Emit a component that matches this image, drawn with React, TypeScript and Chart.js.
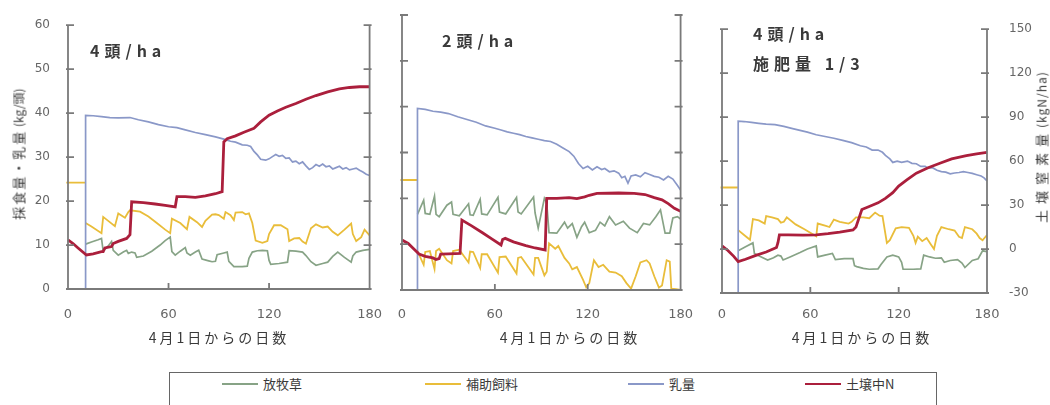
import React, { useEffect, useRef } from "react";
import { Chart, registerables } from "chart.js";

Chart.register(...registerables);

type Pt = [number, number | null];

// ---------- axes / labels ----------
const xTicks = [0, 60, 120, 180];
const leftTicks = [0, 10, 20, 30, 40, 50, 60];
const rightTicks = [-30, 0, 30, 60, 90, 120, 150];
const seriesNames = ["放牧草", "補助飼料", "乳量", "土壌中N"];
const panelTitles = [["4頭/ha"], ["2頭/ha"], ["4頭/ha", "施肥量 1/3"]];
const xTitle = "4月1日からの日数";
const leftTitleA = "採食量・乳量";
const leftTitleB = " (kg/頭)";
const rightTitleA = "土壌窒素量";
const rightTitleB = "(kgN/ha)";

// ---------- panel 1 : 4頭/ha ----------
const grass4: Pt[] = [
  [10.5, 10.2], [14, 10.7], [18, 11.2], [20, 11.5], [21, 8.6], [24, 9.8], [26, 10.8], [27, 8.8], [30, 7.7],
  [33, 8.4], [35, 8.8], [36, 8.1], [38, 8.4], [40, 8.2], [41, 7.2], [45, 7.5], [50, 8.6], [55, 10], [58, 11],
  [61, 11.8], [62, 8.5], [64, 7.7], [67, 8.6], [70, 9.4], [71, 8.2], [73, 7.7], [76, 8.4], [78, 8.8], [80, 6.8],
  [84, 6.4], [86, 6.2], [88, 6.3], [89, 7.8], [93, 8.2], [95, 8.4], [96, 6.3], [99, 5.1], [104, 5.1], [107, 5.2],
  [108, 7], [110, 8.4], [113, 8.7], [116, 8.8], [119, 8.7], [120, 6.5], [121, 5.6], [126, 5.8], [131, 6.1],
  [132, 8.7], [136, 8.6], [140, 8.4], [142, 7.6], [145, 6.2], [148, 5.4], [152, 5.8], [155, 6.1], [158, 7.4],
  [161, 8.4], [165, 7.2], [169, 6.1], [170, 7.5], [172, 8.4], [176, 8.8], [180, 9],
];
const feed4: Pt[] = [
  [-1, 24.2], [10.5, 24.2], [10.5, null], [10.5, 15], [14, 14.2], [20, 12.7], [21, 16.4], [24, 15.5], [28, 14.3],
  [30, 17.2], [34, 16.2], [36, 17.5], [37, 17.9], [43, 17.6], [48, 16.5], [53, 15], [58, 13.5], [61, 12.7],
  [62, 16], [67, 15], [71, 13.6], [72.5, 16.4], [77, 15.2], [80, 14.1], [82, 15.5], [86, 16.9], [88, 17],
  [90, 16.8], [93, 16], [94, 17.5], [97, 16.8], [99, 15.7], [100, 17.4], [104, 17.5], [106, 17], [108, 17.2],
  [110, 15], [112, 11], [116, 10.5], [119, 10.9], [120, 12.5], [123, 14.5], [127, 14.5], [131, 13.6],
  [132, 10.9], [135, 11.5], [138, 11.6], [140, 10.8], [142, 10.3], [143, 11.5], [145, 13.8], [148, 14.7],
  [152, 14], [155, 14.2], [158, 13], [161, 12.2], [165, 13.5], [169, 14.9], [170, 12.5], [172, 10.9],
  [175, 11.8], [177, 13.5], [180, 12.2],
];
const milk4: Pt[] = [
  [0, 0], [10.5, 0], [10.5, 39.5], [15, 39.4], [20, 39.2], [25, 39], [30, 38.9], [37, 39], [42, 38.5], [48, 38],
  [54, 37.4], [60, 36.9], [65, 36.7], [70, 36.2], [76, 35.6], [82, 35.1], [88, 34.6], [93, 34.1], [97, 33.6],
  [100, 33.4], [104, 32.8], [107, 32.7], [109, 32.4], [111, 31.3], [113, 30.5], [115, 29.5], [118, 29.3],
  [120, 29.6], [122, 30.1], [124, 30.6], [126, 30.2], [128, 30.4], [130, 29.7], [132, 29.8], [134, 28.9],
  [136, 29.1], [138, 28.5], [140, 28.9], [142, 28], [144, 27.2], [146, 27.6], [148, 28.3], [150, 27.9],
  [152, 28.4], [154, 27.8], [156, 28], [158, 27.3], [160, 27.6], [162, 27.9], [164, 27.3], [166, 27.6],
  [168, 27.1], [170, 27.3], [172, 27.5], [174, 27], [176, 26.6], [178, 26.1], [180, 25.8],
];
const soilN4: Pt[] = [
  [0, 3.5], [3, 1], [6, -2], [11, -6.8], [15, -6], [20, -4.5], [21, -4.5], [22, -2], [26, -1], [27, 1],
  [30, 2.5], [35, 4.5], [37, 7], [38, 29.5], [45, 29], [52, 28], [58, 27], [64, 26], [65, 33], [70, 33],
  [76, 32.5], [82, 33.5], [88, 35], [92, 36.4], [93, 70.4], [95, 72.5], [100, 74.5], [105, 77], [111, 79.6],
  [115, 84], [120, 88.6], [125, 91.5], [130, 94], [136, 96.6], [142, 99.5], [148, 102], [155, 104.5],
  [162, 106.5], [168, 107.5], [174, 108], [180, 108],
];

// ---------- panel 2 : 2頭/ha ----------
const grass2: Pt[] = [
  [10, 16.5], [14, 19.6], [15, 16.7], [18, 16.5], [21, 20.5], [22, 16.5], [24, 16], [29, 18.5], [32, 19.2],
  [33, 16.5], [37, 16.2], [43, 18.8], [44, 16.4], [46, 16.3], [50.5, 19.8], [51.5, 16.6], [55, 16.4],
  [62, 20.2], [63, 17], [67, 16.6], [74, 20.2], [75, 17], [77, 16.6], [85, 20.3], [86, 16.8], [88, 13.5],
  [92, 20], [93.5, 19], [95, 12.5], [100, 12.4], [105, 14.8], [107, 13.5], [110, 14.5], [113, 11.5],
  [116, 13.8], [118, 14.8], [121, 12.5], [125, 13], [128, 14.8], [131, 14], [134, 16], [138, 14.2],
  [143, 15], [147, 13.5], [152, 12.5], [156, 14.5], [160, 14.2], [164, 16], [167, 17.5], [170, 12.4],
  [173, 12.4], [175, 15.7], [178, 16], [180, 15.5],
];
const feed2: Pt[] = [
  [-1, 24], [10, 24], [10, null], [10, 8.5], [14, 5.5], [15, 8.3], [18, 8.5], [21, 4.6], [22, 8.5], [24, 9],
  [29, 6.5], [32, 5.8], [33, 8.5], [37, 8.8], [43, 6], [44, 8.4], [46, 8.3], [50.5, 4.8], [51.5, 7.8],
  [55, 7.8], [62, 3.8], [63, 7.2], [67, 7.3], [74, 3.6], [75, 7], [77, 7.2], [85, 3.4], [86, 7], [88, 7],
  [92, 3.2], [93.5, 4], [95, 10.2], [99, 9], [101, 9.6], [105, 7], [108, 5.8], [110, 4.5], [113, 5],
  [117, 2.2], [119, 0.6], [121, 1.5], [124, 6.5], [127, 5], [130, 5.5], [134, 4], [138, 3.8], [142, 3],
  [145, 1.5], [148, 0.3], [151, 3], [154, 6], [158, 6.5], [160, 5.8], [163, 3], [166, 0.5], [168, 1],
  [171, 6.5], [173, 6.2], [174, 0.3], [177, 0.2], [180, 0],
];
const milk2: Pt[] = [
  [0, 0], [10, 0], [10, 39.6], [15, 39.4], [20, 39], [25, 38.8], [30, 38.5], [36, 37.8], [42, 37.2],
  [48, 36.6], [54, 35.8], [60, 35.3], [64, 34.9], [68, 34.5], [72, 34.2], [76, 33.9], [80, 33.5], [84, 33.2],
  [88, 32.9], [92, 32.6], [96, 32.4], [100, 31.8], [104, 31], [108, 30.2], [111, 29.2], [114, 27.6],
  [117, 26.5], [120, 27], [123, 26.2], [126, 26.9], [129, 26.3], [131, 26.5], [134, 25.8], [137, 26],
  [140, 25.5], [142, 24.5], [144, 24.8], [146, 23.3], [148, 24.9], [151, 25.1], [154, 24.7], [157, 25.6],
  [160, 25.2], [163, 24.8], [166, 24.6], [169, 24], [172, 24.8], [175, 24.2], [178, 22.8], [180, 21.8],
];
const soilN2: Pt[] = [
  [0, 2.7], [4, 0.5], [8, -3.5], [11, -6.5], [15, -8], [20, -9], [22, -10], [24, -9.5], [25, -6.5],
  [30, -6.3], [37.5, -6], [38.7, 15.8], [45, 12], [52, 7.5], [58, 3.5], [64, -0.5], [65, 3], [66.7, 3.8],
  [72, 1.5], [80, -1], [86, -2.5], [92.5, -3.8], [93.5, 30], [100, 30], [108, 30.5], [113, 29.8], [118, 31],
  [121, 32], [126, 33.3], [140, 33.5], [150, 33.3], [157, 32.5], [163, 30.5], [168, 29], [172, 26.5],
  [176, 23.5], [180, 21.5],
];

// ---------- panel 3 : 4頭/ha 施肥量 1/3 ----------
const grass4f: Pt[] = [
  [11, 9.6], [16, 10.5], [21, 11.4], [22, 9], [26, 8.3], [31, 7.5], [35, 8], [38, 8.6], [40, 8.4], [41.5, 7.5],
  [47, 8.3], [53, 9.2], [58, 10], [64, 10.7], [65, 8.2], [70, 8.6], [75, 9], [77, 7.6], [83, 7.8], [89, 7.8],
  [90, 6.2], [91.5, 6], [96, 5.6], [100, 5.4], [106, 5.5], [108, 6.5], [112, 8.2], [116, 8.6], [120, 8.2],
  [122, 7], [123, 5.4], [130, 5.4], [135, 5.5], [137, 8.6], [141, 8.2], [145, 7.9], [149, 8], [151, 7],
  [155, 7.4], [160, 7.6], [163, 6.8], [165, 5.8], [170, 7.4], [174, 7.8], [177, 9.6], [180, 9.4],
];
const feed4f: Pt[] = [
  [-1, 24], [11, 24], [11, null], [11, 14.3], [15, 13.2], [19, 12.1], [21, 16.8], [25, 16.5], [29, 15.8],
  [30, 17.5], [34, 17.2], [38, 16.8], [40, 16], [42, 16.2], [44, 17.2], [50, 15.6], [56, 14.5], [64, 12.9],
  [65, 15.8], [70, 15.3], [73, 15], [76, 16.7], [80, 16.2], [86, 15.8], [88, 16.2], [91, 17.2], [96, 17.2],
  [100, 17], [104, 18.3], [107, 17.6], [109, 17.5], [112, 11.4], [114, 12], [118, 14.7], [122, 15],
  [127, 14.8], [130, 13], [131.5, 11.4], [133, 12.8], [136, 11.8], [139, 12.5], [142, 11], [144, 10],
  [146, 13], [149, 15], [154, 14.5], [158, 14.2], [161, 12.8], [163, 12.5], [165, 15], [170, 14.5],
  [173, 13.5], [175, 12.5], [177, 12], [180, 13.2],
];
const milk4f: Pt[] = [
  [0, 0], [11, 0], [11, 39.1], [15, 39], [20, 38.8], [25, 38.6], [30, 38.4], [36, 38.3], [42, 37.9],
  [48, 37.4], [53, 37], [58, 36.6], [64, 36], [70, 35.6], [76, 35.2], [82, 34.7], [88, 34.2], [94, 33.5],
  [98, 33.2], [102, 32.5], [106, 32.5], [109, 32], [111, 31.3], [114, 30.5], [116, 29.7], [119, 30],
  [122, 29.7], [126, 30], [129, 29.5], [132, 29.4], [135, 28.8], [138, 28.8], [140, 28.4], [143, 28.5],
  [146, 27.9], [149, 27.6], [152, 27.5], [155, 27.1], [158, 27.3], [161, 27.4], [164, 27.6], [167, 27.4],
  [170, 27.2], [173, 26.9], [176, 26.6], [178, 26.2], [180, 25.5],
];
const soilN4f: Pt[] = [
  [0, 2.2], [4, -1], [8, -5], [11, -8.6], [16, -7], [23, -4.3], [30, -2], [37, 1], [38, 4.3], [39, 9.7],
  [45, 9.7], [55, 9.5], [64, 9.7], [72, 10.5], [80, 11.5], [89, 13], [91, 15], [95, 27], [100, 29],
  [106, 31.5], [111, 34.6], [116, 38.5], [120, 43], [126, 47.5], [132, 51.8], [140, 55.5], [148, 58.5],
  [156, 61.5], [166, 63.7], [173, 65], [180, 66],
];

// ---------- styles ----------
const GREEN = "#87a386";
const YELLOW = "#e9bd3a";
const BLUE = "#8a98c8";
const RED = "#ab1f3c";
const AXIS = "#7a7a7a";
const TICK = "#666666";
const TEXT = "#3a3a3a";
const seriesColors = [GREEN, YELLOW, BLUE, RED];
const H = 350;
const JP = '"Noto Sans CJK JP", "Noto Sans", sans-serif';

type PanelCfg = {
  canvasLeft: number;
  canvasWidth: number;
  plotLeft: number;
  plotRight: number;
  top: number;
  bottom: number;
  leftLabels: boolean;
  rightLabels: boolean;
  xPad: number;
  grass: Pt[];
  feed: Pt[];
  milk: Pt[];
  soil: Pt[];
};

const panels: PanelCfg[] = [
  { canvasLeft: 0, canvasWidth: 400, plotLeft: 68, plotRight: 377, top: 25, bottom: 289, leftLabels: true, rightLabels: false, xPad: 18, grass: grass4, feed: feed4, milk: milk4, soil: soilN4 },
  { canvasLeft: 380, canvasWidth: 330, plotLeft: 402, plotRight: 687, top: 15, bottom: 290, leftLabels: false, rightLabels: false, xPad: 17, grass: grass2, feed: feed2, milk: milk2, soil: soilN2 },
  { canvasLeft: 700, canvasWidth: 350, plotLeft: 722, plotRight: 987, top: 15, bottom: 293, leftLabels: false, rightLabels: true, xPad: 14, grass: grass4f, feed: feed4f, milk: milk4f, soil: soilN4f },
];

const framePlugin = {
  id: "frame",
  afterDatasetsDraw(chart: any) {
    const { ctx, chartArea, scales } = chart;
    const { left, right, top, bottom } = chartArea;
    ctx.save();
    ctx.strokeStyle = AXIS;
    ctx.lineWidth = 1.8;
    ctx.beginPath();
    ctx.moveTo(left, top);
    ctx.lineTo(left, bottom);
    ctx.lineTo(right, bottom);
    ctx.lineTo(right, top);
    for (const v of leftTicks) {
      const py = scales.y.getPixelForValue(v);
      ctx.moveTo(left - 2, py);
      ctx.lineTo(left + 6, py);
      ctx.moveTo(right - 6, py);
      ctx.lineTo(right + 2, py);
    }
    for (const v of xTicks) {
      const px = scales.x.getPixelForValue(v);
      ctx.moveTo(px, bottom);
      ctx.lineTo(px, bottom - 6);
    }
    ctx.stroke();
    ctx.restore();
  },
};

const toXY = (arr: Pt[]) => arr.map(([x, y]) => ({ x, y }));

function makeChart(canvas: HTMLCanvasElement, p: PanelCfg) {
  const leftW = p.plotLeft - p.canvasLeft;
  const rightSpace = p.canvasLeft + p.canvasWidth - p.plotRight;
  const rightW = p.rightLabels ? rightSpace : 0;
  const padRight = p.rightLabels ? 0 : rightSpace;
  const tickFont = { family: '"DejaVu Sans", sans-serif', size: 12 };
  return new Chart(canvas, {
    type: "line",
    data: {
      datasets: [
        { label: seriesNames[3], data: toXY(p.soil), yAxisID: "y2", borderColor: RED, borderWidth: 2.8, order: 0 },
        { label: seriesNames[2], data: toXY(p.milk), yAxisID: "y", borderColor: BLUE, borderWidth: 1.7, order: 1 },
        { label: seriesNames[0], data: toXY(p.grass), yAxisID: "y", borderColor: GREEN, borderWidth: 1.7, order: 2 },
        { label: seriesNames[1], data: toXY(p.feed), yAxisID: "y", borderColor: YELLOW, borderWidth: 1.8, order: 3, spanGaps: false },
      ],
    },
    options: {
      responsive: false,
      maintainAspectRatio: false,
      animation: false,
      clip: { left: 6, right: 0, top: 0, bottom: 0 },
      layout: { padding: { top: p.top, right: padRight, left: 0, bottom: 0 } },
      elements: { point: { radius: 0 }, line: { tension: 0, fill: false } },
      plugins: { legend: { display: false }, tooltip: { enabled: false } },
      scales: {
        x: {
          type: "linear",
          min: 0,
          max: 180,
          afterBuildTicks: (s: any) => { s.ticks = xTicks.map((v) => ({ value: v })); },
          ticks: { font: { ...tickFont, size: 13 }, color: TICK, padding: p.xPad, maxRotation: 0 },
          grid: { display: false, drawTicks: false },
          border: { display: false },
          afterFit: (s: any) => { s.height = H - p.bottom; },
        },
        y: {
          position: "left",
          min: 0,
          max: 60,
          afterBuildTicks: (s: any) => { s.ticks = leftTicks.map((v) => ({ value: v })); },
          ticks: { display: p.leftLabels, font: tickFont, color: TICK, padding: 18 },
          grid: { display: false, drawTicks: false },
          border: { display: false },
          afterFit: (s: any) => { s.width = leftW; },
        },
        y2: {
          position: "right",
          min: -30,
          max: 150,
          afterBuildTicks: (s: any) => { s.ticks = rightTicks.map((v) => ({ value: v })); },
          ticks: { display: p.rightLabels, font: tickFont, color: TICK, padding: 22 },
          grid: { display: false, drawTicks: false },
          border: { display: false },
          afterFit: (s: any) => { s.width = rightW; },
        },
      },
    } as any,
    plugins: [framePlugin],
  });
}

function Panel({ cfg }: { cfg: PanelCfg }) {
  const ref = useRef<HTMLCanvasElement>(null);
  useEffect(() => {
    const chart = makeChart(ref.current as HTMLCanvasElement, cfg);
    return () => chart.destroy();
  }, [cfg]);
  return (
    <canvas
      ref={ref}
      width={cfg.canvasWidth}
      height={H}
      style={{ position: "absolute", left: cfg.canvasLeft, top: 0, width: cfg.canvasWidth, height: H }}
    />
  );
}

const titlePos = [
  { left: 90, top: 35 },
  { left: 442, top: 25 },
  { left: 753, top: 18 },
];
const xTitleCenters = [219, 570, 862];
const legendPos = [222, 425, 628, 805];

export default function App() {
  return (
    <div
      style={{
        position: "absolute",
        left: 0,
        top: 0,
        width: 1050,
        height: 405,
        background: "#fff",
        overflow: "hidden",
        fontFamily: JP,
        color: TEXT,
      }}
    >
      {panels.map((p, i) => (
        <Panel key={i} cfg={p} />
      ))}
      {panelTitles.map((lines, i) => (
        <div
          key={"t" + i}
          style={{
            position: "absolute",
            left: titlePos[i].left,
            top: titlePos[i].top,
            fontSize: 16,
            fontWeight: 700,
            letterSpacing: 5,
            lineHeight: "30px",
            whiteSpace: "pre",
          }}
        >
          {lines.map((l, j) => (
            <div key={j}>{l}</div>
          ))}
        </div>
      ))}
      {xTitleCenters.map((cx, i) => (
        <div
          key={"x" + i}
          style={{
            position: "absolute",
            left: cx,
            top: 337,
            transform: "translate(-50%, -50%)",
            fontSize: 14,
            letterSpacing: 3,
            whiteSpace: "nowrap",
          }}
        >
          {xTitle}
        </div>
      ))}
      <div
        style={{
          position: "absolute",
          left: 18,
          top: 154,
          transform: "translate(-50%, -50%) rotate(-90deg)",
          fontSize: 13,
          whiteSpace: "pre",
        }}
      >
        <span style={{ letterSpacing: 2 }}>{leftTitleA}</span>
        <span style={{ fontSize: 12 }}>{leftTitleB}</span>
      </div>
      <div
        style={{
          position: "absolute",
          left: 1041,
          top: 147,
          transform: "translate(-50%, -50%) rotate(-90deg)",
          fontSize: 13,
          whiteSpace: "nowrap",
        }}
      >
        <span style={{ letterSpacing: 6 }}>{rightTitleA}</span>
        <span style={{ fontSize: 12, letterSpacing: 1 }}>{rightTitleB}</span>
      </div>
      <div
        style={{
          position: "absolute",
          left: 169,
          top: 372,
          width: 766,
          height: 60,
          border: "1.5px solid #666",
        }}
      />
      {seriesNames.map((name, i) => (
        <React.Fragment key={"l" + i}>
          <div
            style={{
              position: "absolute",
              left: legendPos[i],
              top: 383,
              width: 36,
              height: 2,
              background: seriesColors[i],
            }}
          />
          <div
            style={{
              position: "absolute",
              left: legendPos[i] + 41,
              top: 374,
              fontSize: 13,
              lineHeight: "20px",
              whiteSpace: "nowrap",
            }}
          >
            {name}
          </div>
        </React.Fragment>
      ))}
    </div>
  );
}
